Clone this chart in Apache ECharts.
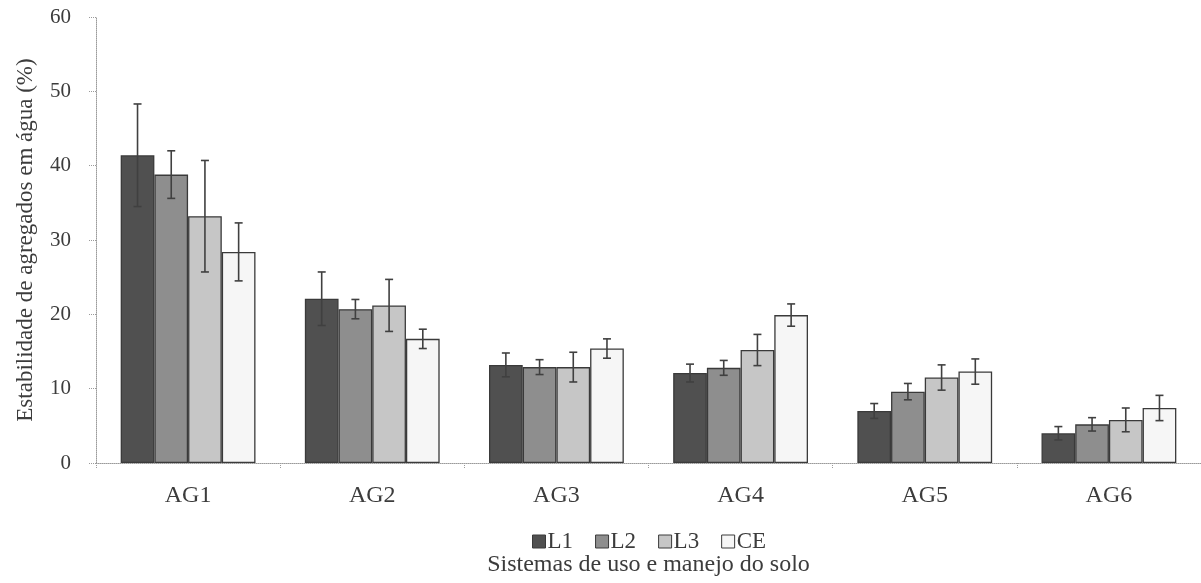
<!DOCTYPE html>
<html>
<head>
<meta charset="utf-8">
<script src="https://cdn.jsdelivr.net/npm/echarts@6/dist/echarts.min.js"></script>
<style>
  html, body { margin: 0; padding: 0; background: #fff; }
  #chart { width: 1201px; height: 583px; }
</style>
</head>
<body>
<div id="chart"></div>
<script>
// Aggregate classes and soil use/management systems
const categories = ['AG1', 'AG2', 'AG3', 'AG4', 'AG5', 'AG6'];
const seriesNames = ['L1', 'L2', 'L3', 'CE'];

// Mean water-stable aggregates (%)
const valuesL1 = [41.4, 22.1, 13.2, 12.1, 7.0, 4.0];
const valuesL2 = [38.8, 20.7, 12.9, 12.8, 9.6, 5.2];
const valuesL3 = [33.2, 21.2, 12.9, 15.2, 11.5, 5.8];
const valuesCE = [28.4, 16.7, 15.4, 19.9, 12.3, 7.4];

// Standard deviation (error bar half-length)
const errorsL1 = [6.9, 3.6, 1.6, 1.2, 1.0, 0.9];
const errorsL2 = [3.2, 1.3, 1.0, 1.0, 1.1, 0.9];
const errorsL3 = [7.5, 3.5, 2.0, 2.1, 1.7, 1.6];
const errorsCE = [3.9, 1.3, 1.3, 1.5, 1.7, 1.7];

const yTicks = { min: 0, max: 60, interval: 10 };

const allValues = [valuesL1, valuesL2, valuesL3, valuesCE];
const allErrors = [errorsL1, errorsL2, errorsL3, errorsCE];
const fills = ['#505050', '#8e8e8e', '#c6c6c6', '#f6f6f6'];

const FONT = '"Liberation Serif", "Times New Roman", serif';
const TEXT = '#3c3c3c';
const BAR_RATIO = 0.183;

const barSeries = seriesNames.map((name, i) => ({
  name,
  type: 'bar',
  barWidth: (BAR_RATIO * 100) + '%',
  barGap: '0%',
  data: allValues[i],
  itemStyle: { color: fills[i], borderColor: '#3a3a3a', borderWidth: 1.3 },
  z: 2
}));

const errorSeries = seriesNames.map((name, i) => ({
  name: name + '-err',
  type: 'custom',
  z: 5,
  silent: true,
  data: allValues[i].map((v, k) => [k, v - allErrors[i][k], v + allErrors[i][k]]),
  renderItem: function (params, api) {
    const k = api.value(0);
    const lo = api.coord([k, api.value(1)]);
    const hi = api.coord([k, api.value(2)]);
    const band = api.size([1, 0])[0];
    const bw = band * BAR_RATIO;
    const x = lo[0] + (i - 1.5) * bw;
    const cap = 4;
    const style = { stroke: '#404040', lineWidth: 1.6 };
    return {
      type: 'group',
      children: [
        { type: 'line', shape: { x1: x, y1: lo[1], x2: x, y2: hi[1] }, style },
        { type: 'line', shape: { x1: x - cap, y1: hi[1], x2: x + cap, y2: hi[1] }, style },
        { type: 'line', shape: { x1: x - cap, y1: lo[1], x2: x + cap, y2: lo[1] }, style }
      ]
    };
  }
}));

const chart = echarts.init(document.getElementById('chart'), null, { renderer: 'canvas' });
chart.setOption({
  animation: false,
  backgroundColor: '#ffffff',
  grid: { left: 96, right: 0, top: 17, bottom: 120 },
  legend: {
    data: seriesNames,
    left: 527,
    top: 525,
    itemWidth: 13,
    itemHeight: 13,
    itemGap: 22,
    icon: 'rect',
    itemStyle: { borderColor: '#3a3a3a', borderWidth: 1 },
    textStyle: { fontFamily: FONT, fontSize: 23, color: TEXT, padding: [0, 0, 0, -3] }
  },
  xAxis: {
    type: 'category',
    data: categories,
    name: 'Sistemas de uso e manejo do solo',
    nameLocation: 'middle',
    nameGap: 90,
    nameTextStyle: { fontFamily: FONT, fontSize: 24, color: TEXT },
    axisLine: { lineStyle: { color: '#9a9a9a', type: 'dotted', width: 1 } },
    axisTick: { show: true, length: 5, lineStyle: { color: '#9a9a9a', type: 'dotted' } },
    axisLabel: { fontFamily: FONT, fontSize: 24, color: TEXT, margin: 21 }
  },
  yAxis: {
    type: 'value',
    min: yTicks.min,
    max: yTicks.max,
    interval: yTicks.interval,
    name: 'Estabilidade de agregados em água (%)',
    nameLocation: 'middle',
    nameGap: 59,
    nameTextStyle: { fontFamily: FONT, fontSize: 23, color: TEXT },
    axisLine: { show: true, lineStyle: { color: '#9a9a9a', type: 'dotted', width: 1 } },
    axisTick: { show: true, length: 7, lineStyle: { color: '#9a9a9a', type: 'dotted' } },
    splitLine: { show: false },
    axisLabel: { fontFamily: FONT, fontSize: 21, color: TEXT, margin: 25 }
  },
  series: [...barSeries, ...errorSeries]
});
</script>
</body>
</html>
